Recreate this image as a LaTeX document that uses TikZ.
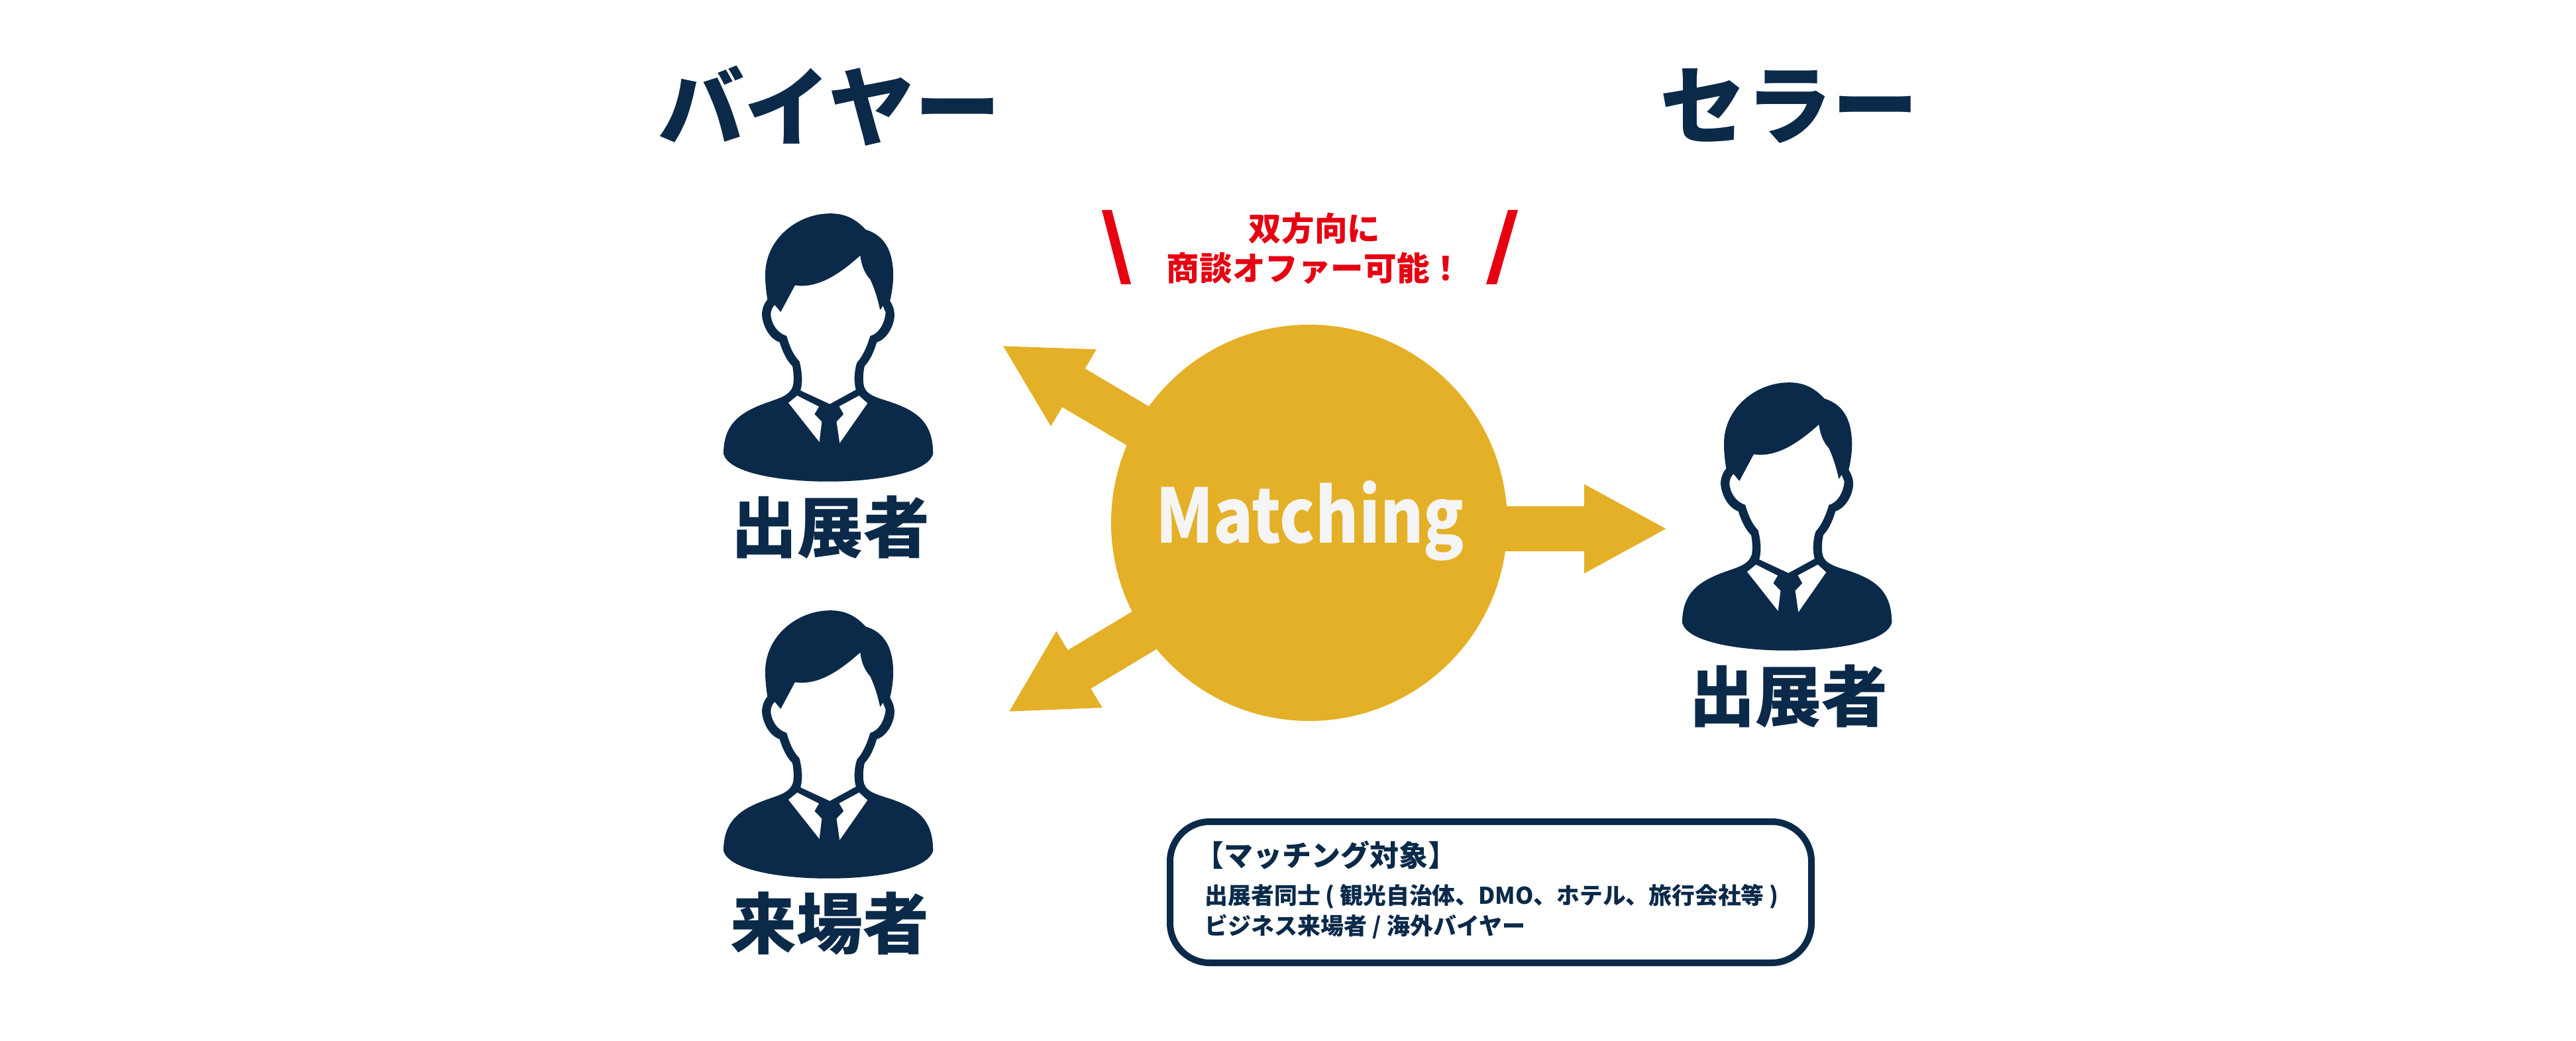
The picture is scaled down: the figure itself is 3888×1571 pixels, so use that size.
\documentclass[tikz,border=0pt]{standalone}
\usepackage{fontspec}
\usepackage{graphicx}
\usetikzlibrary{arrows.meta,backgrounds}
\newfontfamily\jpfont{Noto Sans CJK JP Black}
\definecolor{navy}{HTML}{0B2A4A}
\definecolor{gold}{HTML}{E4B027}
\definecolor{alert}{HTML}{E60012}
\tikzset{
    title/.style={text=navy, inner sep=0pt, font=\jpfont\fontsize{32.5}{36}\selectfont},
    role/.style={text=navy, inner sep=0pt, font=\jpfont\fontsize{25}{30}\selectfont},
    flow/.style={draw=gold, line width=16.9pt, -{Triangle[length=31.5pt, width=31.2pt]}},
    person/.pic={
        \fill[navy] (126,1075) .. controls (150,1160) and (400,1192) .. (600,1192)
            .. controls (800,1192) and (1050,1160) .. (1075,1075)
            .. controls (1075,940) and (1000,890) .. (860,850)
            .. controls (790,830) and (765,815) .. (760,780)
            .. controls (757,750) and (760,725) .. (765,705)
            .. controls (790,680) and (805,650) .. (820,605)
            .. controls (870,590) and (900,530) .. (900,490)
            .. controls (900,465) and (890,445) .. (880,430)
            .. controls (895,370) and (897,320) .. (893,290)
            .. controls (885,200) and (840,150) .. (770,130)
            .. controls (720,80) and (670,62) .. (610,62)
            .. controls (460,62) and (315,170) .. (315,320)
            .. controls (315,360) and (320,395) .. (325,425)
            .. controls (310,440) and (300,465) .. (300,490)
            .. controls (305,540) and (335,590) .. (380,605)
            .. controls (395,650) and (415,685) .. (438,705)
            .. controls (445,740) and (445,770) .. (440,790)
            .. controls (425,830) and (380,840) .. (320,860)
            .. controls (200,900) and (126,950) .. (126,1075) -- cycle;
        \fill[white] (450,365) .. controls (560,380) and (660,310) .. (745,240)
            .. controls (750,280) and (765,315) .. (790,340)
            .. controls (810,380) and (825,425) .. (835,470)
            -- (848,452) -- (860,480)
            .. controls (855,530) and (825,570) .. (790,578)
            .. controls (775,625) and (755,665) .. (730,690)
            .. controls (718,725) and (715,770) .. (725,805)
            -- (607,865) -- (475,808)
            .. controls (487,770) and (480,720) .. (470,685)
            .. controls (440,655) and (425,620) .. (412,578)
            .. controls (370,565) and (345,530) .. (340,490)
            .. controls (340,470) and (348,458) .. (358,448)
            -- (385,478) -- cycle;
        \fill[white] (460,830) -- (420,860) -- (560,1025) -- (571,940) -- (538,908) -- (558,876) -- cycle;
        \fill[white] (740,830) -- (778,862) -- (652,1030) -- (638,940) -- (670,908) -- (650,875) -- cycle;
    }
}
\begin{document}
\begin{tikzpicture}[x=0.25pt, y=-0.25pt]
    \useasboundingbox (0,0) rectangle (3888,1571);

    \node[title] (buyer)  at (1252, 160) {バイヤー};
    \node[title] (seller) at (2700, 160) {セラー};

    \pic (exhibitorA) at (1050, 300) [xscale=0.3333, yscale=0.358] {person};
    \pic (visitor)    at (1050, 899) [xscale=0.3333, yscale=0.358] {person};
    \pic (exhibitorB) at (2497, 555) [xscale=0.3333, yscale=0.358] {person};

    \node[role] (labelA) at (1253, 796)  {出展者};
    \node[role] (labelB) at (1252, 1394) {来場者};
    \node[role] (labelC) at (2699, 1051) {出展者};

    \node[circle, fill=gold, minimum size=149.5pt, inner sep=0pt] (match) at (1976, 789) {};
    \node[text=white!96!black, inner sep=0pt, anchor=base, font=\jpfont\fontsize{28.3}{32}\selectfont] (matchtext) at (1977, 820) {\scalebox{0.88}[1]{Matching}};

    \coordinate (toExhibitorA) at (1512, 521);
    \coordinate (toVisitor)    at (1521, 1075);
    \coordinate (toExhibitorB) at (2517, 798);
    \begin{scope}[on background layer]
        \draw[flow] ([yshift=-1.75pt]match.center) -- (toExhibitorA);
        \draw[flow] ([yshift=-3.25pt]match.center) -- (toVisitor);
        \draw[flow] (match.center |- toExhibitorB) -- (toExhibitorB);
    \end{scope}

    \fill[alert] (1663, 317) -- (1678, 317) -- (1707, 429) -- (1692, 429) -- cycle;
    \fill[alert] (2276, 317) -- (2291, 317) -- (2259, 429) -- (2243, 429) -- cycle;
    \node[text=alert, inner sep=0pt, align=center, font=\jpfont\fontsize{12.4}{15}\selectfont] (offer) at (1984, 375) {双方向に\\商談オファー可能！};

    \node[draw=navy, line width=2.5pt, rounded corners=15pt, minimum width=242pt, minimum height=53.25pt, inner sep=0pt] (targets) at (2250, 1346.5) {};
    \node[text=navy, inner sep=0pt, anchor=west, font=\jpfont\fontsize{11}{12}\selectfont] (targethead) at (1803, 1290) {【マッチング対象】};
    \node[text=navy, inner sep=0pt, anchor=west, font=\jpfont\fontsize{8.7}{10}\selectfont] (targetone) at (1818, 1353) {出展者同士 ( 観光自治体、DMO、ホテル、旅行会社等 )};
    \node[text=navy, inner sep=0pt, anchor=west, font=\jpfont\fontsize{8.75}{10}\selectfont] (targettwo) at (1818, 1398) {ビジネス来場者 / 海外バイヤー};
\end{tikzpicture}
\end{document}
